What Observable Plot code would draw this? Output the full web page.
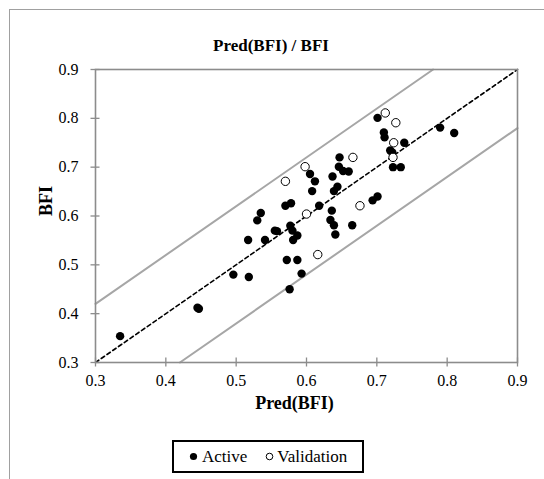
<!DOCTYPE html>
<html><head><meta charset="utf-8">
<script src="https://cdn.jsdelivr.net/npm/d3@7"></script>
<script src="https://cdn.jsdelivr.net/npm/@observablehq/plot@0.6"></script>
<style>
body{margin:0;background:#fff;font-family:"Liberation Serif","Times New Roman",serif;}
#wrap{position:relative;width:544px;height:479px;overflow:hidden;background:#fff;}
#border{position:absolute;left:9px;top:9px;width:700px;height:700px;border-left:1.5px solid #a0a0a0;border-top:1.5px solid #a0a0a0;}
#title{position:absolute;top:36px;left:0;width:542px;text-align:center;font-weight:bold;font-size:17px;line-height:20px;}
#chart{position:absolute;left:0;top:0;}
#legend{position:absolute;left:172px;top:440px;width:188px;height:29px;border:2px solid #000;display:flex;align-items:center;font-size:17px;line-height:20px;box-sizing:content-box;}
#legend .item{display:flex;align-items:center;}
#legend svg{display:block;}
</style>
</head><body>
<div id="wrap">
  <div id="border"></div>
  <div id="chart"></div>
  <div id="title">Pred(BFI) / BFI</div>
  <div id="legend"></div>
</div>
<script>
// Active series
const predActive = [0.335,0.445,0.447,0.496,0.518,0.517,0.541,0.530,0.535,0.555,0.558,0.570,0.578,0.577,0.580,0.587,0.581,0.572,0.587,0.576,0.593,0.605,0.612,0.608,0.618,0.636,0.634,0.639,0.641,0.665,0.694,0.701,0.637,0.644,0.639,0.647,0.646,0.652,0.660,0.701,0.710,0.711,0.739,0.719,0.722,0.723,0.734,0.790,0.810];
const bfiActive  = [0.354,0.412,0.410,0.480,0.475,0.551,0.551,0.591,0.606,0.570,0.569,0.621,0.626,0.580,0.570,0.560,0.551,0.510,0.510,0.450,0.482,0.686,0.671,0.651,0.621,0.611,0.592,0.581,0.562,0.581,0.632,0.640,0.681,0.660,0.651,0.720,0.701,0.692,0.691,0.801,0.771,0.761,0.750,0.734,0.730,0.700,0.700,0.781,0.770];
// Validation series
const predValidation = [0.570,0.598,0.600,0.666,0.676,0.616,0.712,0.727,0.724,0.723];
const bfiValidation  = [0.671,0.701,0.604,0.720,0.621,0.521,0.811,0.791,0.750,0.720];
// Axes
const xTicks = [0.3,0.4,0.5,0.6,0.7,0.8,0.9];
const yTicks = [0.3,0.4,0.5,0.6,0.7,0.8,0.9];
const axisMin = 0.3, axisMax = 0.9;
const bandOffset = 0.12;
const seriesNames = ["Active","Validation"];

const active = predActive.map((p,i)=>({pred:p, bfi:bfiActive[i]}));
const validation = predValidation.map((p,i)=>({pred:p, bfi:bfiValidation[i]}));
const diag = [{pred:axisMin,bfi:axisMin},{pred:axisMax,bfi:axisMax}];
const upper = [{pred:axisMin,bfi:axisMin+bandOffset},{pred:axisMax-bandOffset,bfi:axisMax}];
const lower = [{pred:axisMin+bandOffset,bfi:axisMin},{pred:axisMax,bfi:axisMax-bandOffset}];

const fmt = d3.format(".1f");
const gray = "#8c8c8c";

const chart = Plot.plot({
  width:544, height:479,
  marginLeft:95, marginRight:27, marginTop:69, marginBottom:117,
  x:{domain:[axisMin,axisMax]},
  y:{domain:[axisMin,axisMax]},
  style:{fontFamily:'"Liberation Serif","Times New Roman",serif', fontSize:"16px", color:"#000", background:"transparent"},
  marks:[
    Plot.line(upper,{x:"pred",y:"bfi",stroke:"#a6a6a6",strokeWidth:2}),
    Plot.line(lower,{x:"pred",y:"bfi",stroke:"#a6a6a6",strokeWidth:2}),
    Plot.line(diag,{x:"pred",y:"bfi",stroke:"#000",strokeWidth:1.6,strokeDasharray:"4,3"}),
    Plot.frame({stroke:gray,strokeWidth:1.6}),
    Plot.axisX({ticks:xTicks,tickSize:9,dy:-4.5,text:null,label:null,stroke:gray,strokeWidth:1.3}),
    Plot.axisY({ticks:yTicks,tickSize:9,dx:4.5,text:null,label:null,stroke:gray,strokeWidth:1.3}),
    Plot.axisX({ticks:xTicks,tickSize:0,tickPadding:12,tickFormat:fmt,label:null,fill:"#000",fontSize:16}),
    Plot.axisY({ticks:yTicks,tickSize:0,tickPadding:17,tickFormat:fmt,label:null,fill:"#000",fontSize:16}),
    Plot.dot(active,{x:"pred",y:"bfi",r:4.2,fill:"#000",stroke:"none"}),
    Plot.dot(validation,{x:"pred",y:"bfi",r:4.2,fill:"#fff",stroke:"#000",strokeWidth:1}),
    Plot.text(["Pred(BFI)"],{text:d=>d,frameAnchor:"bottom",dy:46,dx:-12,fontWeight:"bold",fontSize:18,fill:"#000"}),
    Plot.text(["BFI"],{text:d=>d,frameAnchor:"left",dx:-49,rotate:-90,fontWeight:"bold",fontSize:18,fill:"#000"})
  ]
});
document.getElementById("chart").appendChild(chart);

const legend = document.getElementById("legend");
legend.innerHTML = `
<div class="item" style="margin-left:15px">
  <svg width="9" height="9"><circle cx="4.5" cy="4.5" r="3.6" fill="#000"/></svg>
  <span style="margin-left:4px">${seriesNames[0]}</span>
</div>
<div class="item" style="margin-left:18px">
  <svg width="9" height="9"><circle cx="4.5" cy="4.5" r="3.3" fill="#fff" stroke="#000" stroke-width="1"/></svg>
  <span style="margin-left:3px">${seriesNames[1]}</span>
</div>`;
</script>
</body></html>
